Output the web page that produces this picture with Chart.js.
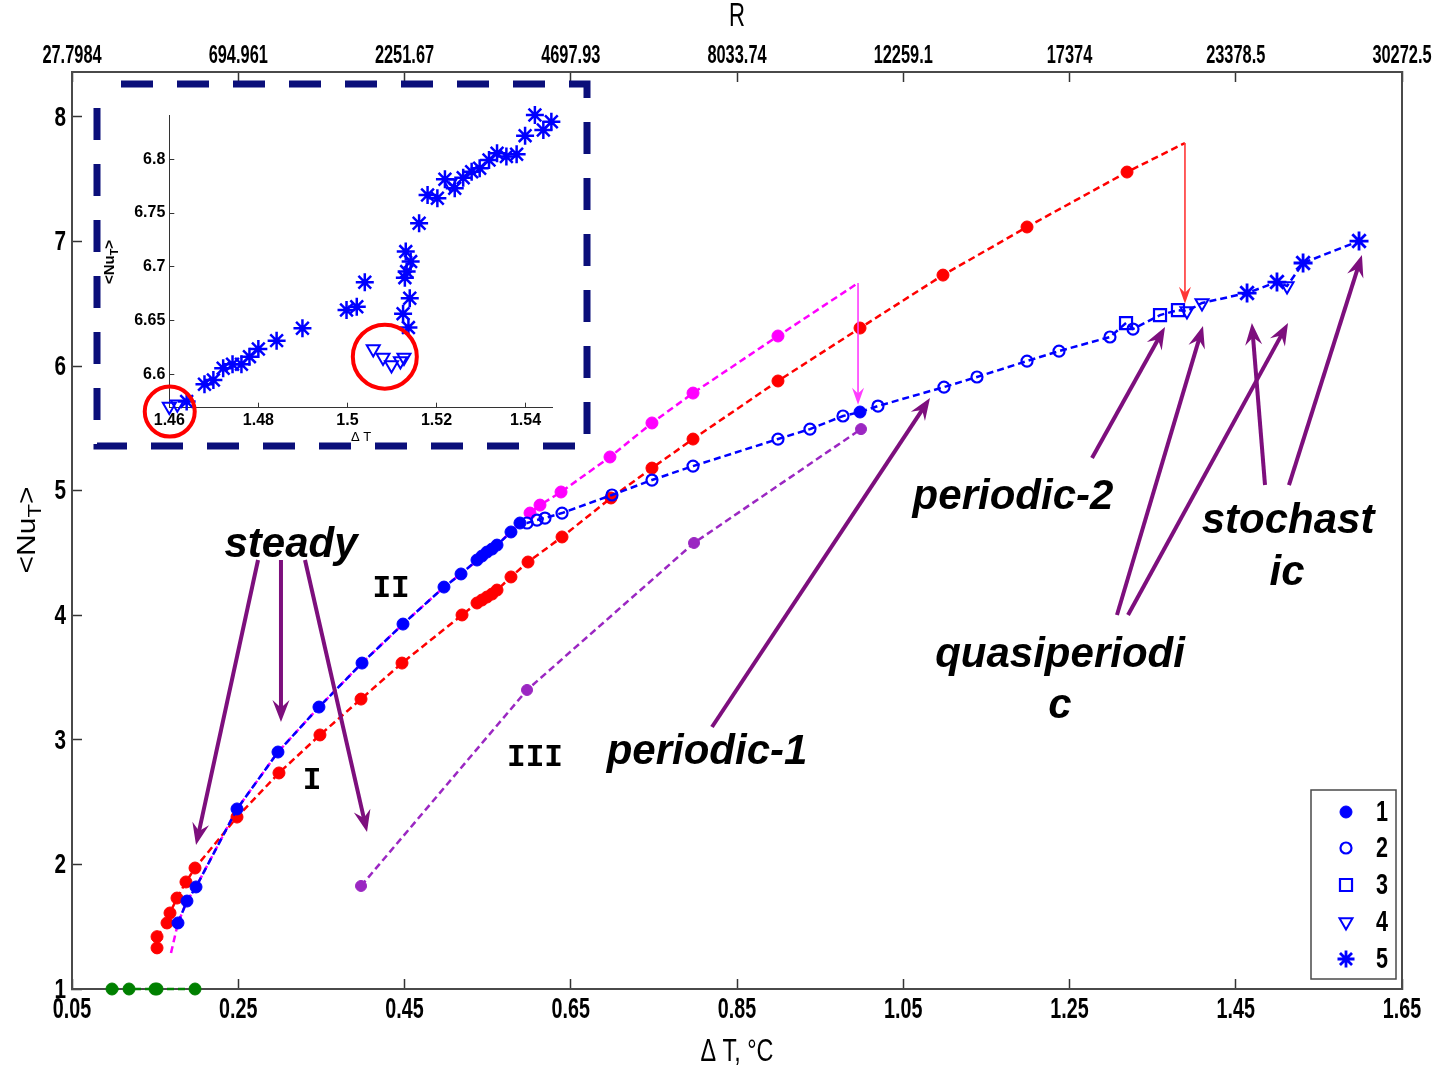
<!DOCTYPE html>
<html><head><meta charset="utf-8">
<script src="https://cdn.jsdelivr.net/npm/chart.js@4.4.1/dist/chart.umd.min.js"></script>
<style>
html,body{margin:0;padding:0;background:#fff;}
#wrap{position:relative;width:1435px;height:1071px;background:#fff;}
#main{position:absolute;left:0;top:0;}
#inset{position:absolute;left:88px;top:75px;}
</style></head><body>
<div id="wrap"><canvas id="main" width="1435" height="1071"></canvas><canvas id="inset" width="510" height="385"></canvas></div>
<script>
// ================= DATA =================
const xTicks = [0.05,0.25,0.45,0.65,0.85,1.05,1.25,1.45,1.65];
const rTickLabels = ['27.7984','694.961','2251.67','4697.93','8033.74','12259.1','17374','23378.5','30272.5'];
const yTicks = [1,2,3,4,5,6,7,8];
const legendLabels = ['1','2','3','4','5'];

// Branch II + later regimes (blue), regime code per point (1..5)
const blueX = [0.1775,0.1883,0.1992,0.2485,0.2978,0.3471,0.3989,0.4482,0.4975,0.5180,0.5372,0.5432,0.5492,0.5553,0.5613,0.5781,0.5889,
               0.5974,0.6094,0.6190,0.6395,0.6996,0.7477,0.7971,0.8993,0.9378,0.9775,0.9980,1.0196,1.0990,1.1387,1.1989,1.2374,1.2987,
               1.3180,1.3264,1.3589,1.3805,1.3913,1.4094,1.4636,1.4996,1.5117,1.5310,1.5983];
const blueY = [1.530,1.706,1.819,2.445,2.902,3.263,3.616,3.929,4.226,4.331,4.443,4.475,4.507,4.531,4.563,4.668,4.740,
               4.740,4.764,4.780,4.820,4.965,5.085,5.197,5.414,5.494,5.599,5.631,5.679,5.831,5.912,6.040,6.120,6.233,
               6.345,6.297,6.409,6.449,6.441,6.506,6.586,6.674,6.642,6.827,7.003];
const blueRegime = [1,1,1,1,1,1,1,1,1,1,1,1,1,1,1,1,1,
                    2,2,2,2,2,2,2,2,2,2,1,2,2,2,2,2,2,
                    3,2,3,3,4,4,5,5,4,5,5];

// Branch I (red)
const redX = [0.1523,0.1523,0.1643,0.1679,0.1763,0.1871,0.1980,0.2485,0.2990,0.3483,0.3977,0.4470,0.5192,0.5372,0.5432,0.5492,0.5553,0.5613,
              0.5781,0.5986,0.6395,0.6984,0.7477,0.7971,0.8993,0.9980,1.0978,1.1989,1.3192,1.3889];
const redY = [1.330,1.420,1.530,1.610,1.730,1.859,1.971,2.380,2.734,3.039,3.327,3.616,4.002,4.098,4.122,4.146,4.170,4.202,
              4.307,4.427,4.628,4.941,5.181,5.414,5.880,6.305,6.730,7.116,7.557,7.790];

// Magenta branch (follows branch II, then separates)
const magentaX = [0.1691,0.1775,0.1883,0.1992,0.2485,0.2978,0.3471,0.3989,0.4482,0.4975,0.5613,0.5889,
                  0.6010,0.6130,0.6383,0.6972,0.7477,0.7971,0.8993,0.9956];
const magentaY = [1.289,1.530,1.706,1.819,2.445,2.902,3.263,3.616,3.929,4.226,4.563,4.740,
                  4.820,4.884,4.989,5.270,5.543,5.783,6.241,6.666];
const magentaSplitX = 0.595;

// Branch III (purple)
const purpleX = [0.3977,0.5974,0.7983,0.9992];
const purpleY = [1.827,3.400,4.580,5.494];

// Conduction (green)
const greenX = [0.0981,0.1186,0.1499,0.1523,0.1980];
const greenY = [1.0,1.0,1.0,1.0,1.0];

// Inset
const insetXTicks = [1.46,1.48,1.5,1.52,1.54];
const insetYTicks = [6.6,6.65,6.7,6.75,6.8];
const insetX = [1.4600,1.4618,1.4639,1.4679,1.4699,1.4721,1.4742,1.4762,1.4780,1.4800,1.4841,1.4899,1.4998,1.5021,1.5039,
                1.5058,1.5080,1.5099,1.5119,1.5127,
                1.5137,1.5125,1.5140,1.5129,1.5133,1.5142,1.5131,1.5161,1.5180,1.5202,1.5219,1.5230,1.5241,1.5260,1.5279,1.5297,
                1.5318,1.5336,1.5357,1.5380,1.5399,1.5421,1.5440,1.5458];
const insetY = [6.5700,6.5720,6.5746,6.5907,6.5947,6.6056,6.6093,6.6093,6.6164,6.6236,6.6313,6.6428,6.6598,6.6629,6.6856,
                6.6236,6.6155,6.6087,6.6124,6.6155,
                6.6434,6.6564,6.6707,6.6899,6.6955,6.7048,6.7141,6.7405,6.7668,6.7637,6.7814,6.7777,6.7730,6.7829,6.7885,6.7916,
                6.7994,6.8056,6.8025,6.8047,6.8220,6.8412,6.8273,6.8350];
const insetRegime = [4,4,5,5,5,5,5,5,5,5,5,5,5,5,5,
                     4,4,4,4,4,
                     5,5,5,5,5,5,5,5,5,5,5,4,5,5,5,5,
                     5,5,5,5,5,5,5,5];

// ================= STYLE / DECORATION =================
const SANS = "'Liberation Sans',Arial,sans-serif";
const MONO = "'Liberation Mono','Courier New',monospace";
const BLUE = '#0000ff', RED = '#ff0000', MAG = '#ff00ff', PUR = '#9b27c2', GRN = '#008000', ANN = '#7d0f7d';
const FRAME = '#4a4a4a';
const S = {
  1:{ps:'circle',r:6,bw:1,fill:true,rot:0},
  2:{ps:'circle',r:5.5,bw:2.2,fill:false,rot:0},
  3:{ps:'rect',r:8.5,bw:2.2,fill:false,rot:0},
  4:{ps:'triangle',r:7.5,bw:2,fill:false,rot:180},
  5:{ps:'star',r:9.5,bw:2.8,fill:false,rot:0}
};
const noteTexts = [
  {t:'steady', x:0.3135, y:4.563, k:'it'},
  {t:'periodic-1', x:0.8139, y:2.902, k:'it'},
  {t:'periodic-2', x:1.1820, y:4.949, k:'it'},
  {t:'stochast', x:1.5129, y:4.756, k:'it'},
  {t:'ic', x:1.5117, y:4.339, k:'it'},
  {t:'quasiperiodi', x:1.2386, y:3.681, k:'it'},
  {t:'c', x:1.2386, y:3.271, k:'it'},
  {t:'II', x:0.4338, y:4.210, k:'rm'},
  {t:'I', x:0.3387, y:2.669, k:'rm'},
  {t:'III', x:0.6070, y:2.854, k:'rm'}
];
const noteArrows = [
  [0.2738,4.443,0.1992,2.156],
  [0.3014,4.443,0.3014,3.143],
  [0.3303,4.443,0.4049,2.260],
  [0.8199,3.103,1.0822,5.743],
  [1.2771,5.262,1.3649,6.313],
  [1.3071,4.002,1.4106,6.321],
  [1.3204,4.002,1.5129,6.345],
  [1.4852,5.045,1.4694,6.345],
  [1.5140,5.045,1.6018,6.891]
];
const jumpArrows = [
  {x:1.3889, y0:7.790, y1:6.50, c:'#ff3535'},
  {x:0.9956, y0:6.666, y1:5.69, c:'#ff3cff'}
];

function drawArrow(ctx,x0,y0,x1,y1,color,lw,hl,hw){
  const a = Math.atan2(y1-y0,x1-x0), c = Math.cos(a), s = Math.sin(a);
  ctx.save();
  ctx.strokeStyle=color; ctx.fillStyle=color; ctx.lineWidth=lw; ctx.setLineDash([]);
  ctx.beginPath(); ctx.moveTo(x0,y0); ctx.lineTo(x1-c*hl*0.6,y1-s*hl*0.6); ctx.stroke();
  ctx.beginPath();
  ctx.moveTo(x1,y1);
  ctx.lineTo(x1-c*hl+s*hw/2, y1-s*hl-c*hw/2);
  ctx.lineTo(x1-c*hl*0.65, y1-s*hl*0.65);
  ctx.lineTo(x1-c*hl-s*hw/2, y1-s*hl+c*hw/2);
  ctx.closePath(); ctx.fill();
  ctx.restore();
}
function sq(ctx,text,x,y,font,sx,align){
  ctx.save(); ctx.translate(x,y); ctx.scale(sx,1);
  ctx.font=font; ctx.textAlign=align||'center'; ctx.textBaseline='middle'; ctx.fillStyle='#000';
  ctx.fillText(text,0,0); ctx.restore();
}
function drawNuT(ctx,cx,cy,size,weight,family,sx){
  ctx.save(); ctx.translate(cx,cy); ctx.rotate(-Math.PI/2); ctx.scale(1,sx||1);
  const f1 = weight+' '+size+'px '+family, f2 = weight+' '+Math.round(size*0.72)+'px '+family;
  ctx.font=f1; const w1=ctx.measureText('<Nu').width, w3=ctx.measureText('>').width;
  ctx.font=f2; const w2=ctx.measureText('T').width;
  let x=-(w1+w2+w3)/2;
  ctx.textBaseline='middle'; ctx.textAlign='left'; ctx.fillStyle='#000';
  ctx.font=f1; ctx.fillText('<Nu',x,0); x+=w1;
  ctx.font=f2; ctx.fillText('T',x,size*0.32); x+=w2;
  ctx.font=f1; ctx.fillText('>',x,0);
  ctx.restore();
}
function marker(ctx,st,x,y,color){
  ctx.save();
  ctx.strokeStyle=color; ctx.fillStyle=st.fill?color:'rgba(0,0,0,0)'; ctx.lineWidth=st.bw;
  if (Chart.helpers && Chart.helpers.drawPoint) {
    Chart.helpers.drawPoint(ctx,{pointStyle:st.ps,radius:st.r,rotation:st.rot,borderWidth:st.bw},x,y);
  }
  ctx.restore();
}

const mainDeco = {
  id:'mainDeco',
  afterDraw(chart){
    const {ctx, chartArea:ca} = chart, X = chart.scales.x, X2 = chart.scales.x2, Y = chart.scales.y;
    const px=v=>X.getPixelForValue(v), py=v=>Y.getPixelForValue(v);
    ctx.save();
    // right frame
    ctx.strokeStyle=FRAME; ctx.lineWidth=2; ctx.beginPath(); ctx.moveTo(ca.right,ca.top); ctx.lineTo(ca.right,ca.bottom); ctx.stroke();
    // tick labels (condensed look, positions from the scales)
    X.ticks.forEach(t=>sq(ctx,Number(t.value).toFixed(2),X.getPixelForValue(t.value),ca.bottom+21,'bold 29px '+SANS,0.68));
    X2.ticks.forEach((t,i)=>sq(ctx,rTickLabels[i],X2.getPixelForValue(t.value),ca.top-16,'bold 26px '+SANS,0.63));
    Y.ticks.forEach(t=>sq(ctx,String(t.value),66,Y.getPixelForValue(t.value)+1,'bold 28px '+SANS,0.74,'right'));
    // axis titles
    sq(ctx,'R',(ca.left+ca.right)/2,17,'33px '+SANS,0.67);
    sq(ctx,'Δ T, °C',(ca.left+ca.right)/2,1052,'32px '+SANS,0.73);
    drawNuT(ctx,28,530,30,'normal',SANS,0.85);
    // jump arrows
    jumpArrows.forEach(a=>drawArrow(ctx,px(a.x),py(a.y0),px(a.x),py(a.y1),a.c,1.6,17,12));
    // annotation arrows
    noteArrows.forEach(a=>drawArrow(ctx,px(a[0]),py(a[1]),px(a[2]),py(a[3]),ANN,4,22,17));
    // texts
    ctx.textAlign='center'; ctx.textBaseline='middle'; ctx.fillStyle='#000';
    noteTexts.forEach(n=>{
      ctx.font = n.k==='it' ? 'italic bold 42px '+SANS : 'bold 31px '+MONO;
      ctx.fillText(n.t,px(n.x),py(n.y));
    });
    // legend
    const lx=1311, ly=790, lw=85, lh=189;
    ctx.fillStyle='#fff'; ctx.fillRect(lx,ly,lw,lh);
    ctx.strokeStyle=FRAME; ctx.lineWidth=1.5; ctx.strokeRect(lx,ly,lw,lh);
    const rows=[812,848,885,922,959];
    legendLabels.forEach((lab,i)=>{
      const st = Object.assign({}, S[i+1]);
      if (i===4) st.r=8.5;
      if (i===2) st.r=8.5;
      if (i===3) st.r=7.5;
      marker(ctx,st,1346,rows[i],BLUE);
      sq(ctx,lab,1382,rows[i]+1,'bold 30px '+SANS,0.72);
    });
    ctx.restore();
  }
};

const hAxis = (pos,h) => ({
  type:'linear', position:pos, min:0.05, max:1.65,
  afterBuildTicks:s=>{s.ticks=xTicks.map(v=>({value:v}));},
  afterFit:s=>{s.height=h; s.paddingLeft=0; s.paddingRight=0;},
  grid:{drawOnChartArea:false, drawTicks:true, tickLength:-10, tickColor:'#333', tickWidth:1.5},
  border:{display:true, color:FRAME, width:2},
  ticks:{display:false}
});
const mainChart = new Chart(document.getElementById('main'), {
  type:'scatter',
  data:{datasets:[
    { data: blueX.map((x,i)=>({x, y:blueY[i]})), showLine:true, borderColor:BLUE, borderWidth:2.5, borderDash:[7,4],
      pointStyle: blueRegime.map(r=>S[r].ps), pointRadius: blueRegime.map(r=>S[r].r),
      pointBorderWidth: blueRegime.map(r=>S[r].bw), pointRotation: blueRegime.map(r=>S[r].rot),
      pointBackgroundColor: blueRegime.map(r=>S[r].fill?BLUE:'rgba(0,0,0,0)'), pointBorderColor:BLUE, clip:false },
    { data: redX.map((x,i)=>({x, y:redY[i]})), showLine:true, borderColor:RED, borderWidth:2.5, borderDash:[7,4],
      pointStyle:'circle', pointRadius: redX.map((_,i)=> i===redX.length-1?0:6), pointBorderWidth:1,
      pointBackgroundColor:RED, pointBorderColor:RED, clip:false },
    { data: magentaX.map((x,i)=>({x, y:magentaY[i]})), showLine:true, borderColor:MAG, borderWidth:2.5, borderDash:[7,4],
      pointStyle:'circle', pointRadius: magentaX.map((x,i)=> (x>magentaSplitX && i<magentaX.length-1)?6:0), pointBorderWidth:1,
      pointBackgroundColor:MAG, pointBorderColor:MAG, clip:false },
    { data: purpleX.map((x,i)=>({x, y:purpleY[i]})), showLine:true, borderColor:PUR, borderWidth:2.5, borderDash:[7,4],
      pointStyle:'circle', pointRadius:5.5, pointBorderWidth:1, pointBackgroundColor:PUR, pointBorderColor:PUR, clip:false },
    { data: greenX.map((x,i)=>({x, y:greenY[i]})), showLine:true, borderColor:GRN, borderWidth:2.5, borderDash:[7,4],
      pointStyle:'circle', pointRadius:6, pointBorderWidth:1, pointBackgroundColor:GRN, pointBorderColor:GRN, clip:false }
  ]},
  options:{
    responsive:false, animation:false, events:[],
    layout:{padding:{left:0,right:33,top:0,bottom:0}},
    plugins:{legend:{display:false}, tooltip:{enabled:false}},
    scales:{
      x: hAxis('bottom',82),
      x2: hAxis('top',72),
      y:{ type:'linear', position:'left', min:1, max:8.36,
          afterBuildTicks:s=>{s.ticks=yTicks.map(v=>({value:v}));},
          afterFit:s=>{s.width=72; s.paddingTop=0; s.paddingBottom=0;},
          grid:{drawOnChartArea:false, drawTicks:true, tickLength:-10, tickColor:'#333', tickWidth:1.5},
          border:{display:true, color:FRAME, width:2},
          ticks:{display:false} }
    }
  },
  plugins:[mainDeco]
});

// ================= INSET =================
const insetDeco = {
  id:'insetDeco',
  afterDraw(chart){
    const {ctx} = chart, X = chart.scales.x, Y = chart.scales.y;
    ctx.save();
    ctx.strokeStyle='#ff0000'; ctx.lineWidth=4;
    [[1.4601,6.5653,25],[1.5084,6.6164,32]].forEach(c=>{
      ctx.beginPath(); ctx.arc(X.getPixelForValue(c[0]),Y.getPixelForValue(c[1]),c[2],0,Math.PI*2); ctx.stroke();
    });
    drawNuT(ctx,22,187,15,'bold',SANS);
    ctx.strokeStyle='#0b0f7a'; ctx.lineWidth=7; ctx.setLineDash([32,24]); ctx.lineDashOffset=32;
    ctx.beginPath(); ctx.moveTo(9,9); ctx.lineTo(499,9); ctx.lineTo(499,371); ctx.lineTo(9,371); ctx.lineTo(9,9); ctx.stroke();
    ctx.restore();
  }
};
const insetPts = r => insetX.map((x,i)=>({x, y:insetY[i], r:insetRegime[i]})).filter(p=>p.r===r);
new Chart(document.getElementById('inset'), {
  type:'scatter',
  data:{datasets:[
    { data: insetPts(5), pointStyle:'star', pointRadius:9, pointBorderWidth:2.5, borderColor:BLUE, backgroundColor:'rgba(0,0,0,0)', clip:false },
    { data: insetPts(4), pointStyle:'triangle', pointRotation:180, pointRadius:7.5, pointBorderWidth:2, borderColor:BLUE, backgroundColor:'rgba(0,0,0,0)', clip:false }
  ]},
  options:{
    responsive:false, animation:false, events:[],
    layout:{padding:{left:0,right:45.3,top:40,bottom:0}},
    plugins:{legend:{display:false}, tooltip:{enabled:false}},
    scales:{
      x:{ type:'linear', min:1.46, max:1.5461,
          afterBuildTicks:s=>{s.ticks=insetXTicks.map(v=>({value:v}));},
          afterFit:s=>{s.height=52.3; s.paddingLeft=0; s.paddingRight=0;},
          grid:{drawOnChartArea:false, drawTicks:true, tickLength:-5, tickColor:'#333', tickWidth:1},
          border:{display:true, color:'#333', width:1},
          ticks:{padding:8, color:'#000', font:{family:SANS, weight:'bold', size:16}, maxRotation:0, autoSkip:false, callback:v=>String(v)},
          title:{display:true, text:'Δ T', color:'#000', font:{family:SANS, size:13}, padding:{top:0,bottom:15}} },
      y:{ type:'linear', min:6.5689, max:6.8412,
          afterBuildTicks:s=>{s.ticks=insetYTicks.map(v=>({value:v}));},
          afterFit:s=>{s.width=81.3; s.paddingTop=0; s.paddingBottom=0;},
          grid:{drawOnChartArea:false, drawTicks:true, tickLength:-5, tickColor:'#333', tickWidth:1},
          border:{display:true, color:'#333', width:1},
          ticks:{padding:9, color:'#000', font:{family:SANS, weight:'bold', size:16}, callback:v=>String(v)} }
    }
  },
  plugins:[insetDeco]
});
</script>
</body></html>
